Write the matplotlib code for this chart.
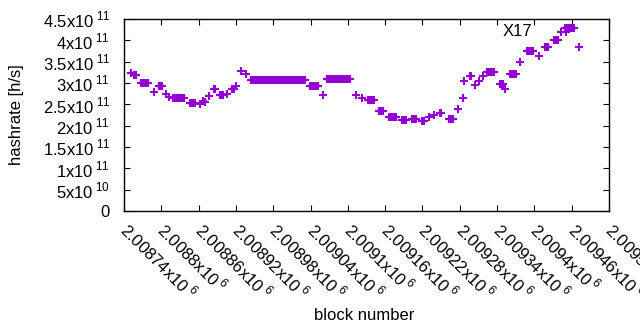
import numpy as np
import matplotlib
matplotlib.use("Agg")
import matplotlib.pyplot as plt
from matplotlib.ticker import FixedLocator, FuncFormatter

plt.rcParams['font.family'] = ['Liberation Sans', 'DejaVu Sans']
plt.rcParams['mathtext.fontset'] = 'custom'
plt.rcParams['mathtext.rm'] = 'Liberation Sans'

# runs of equal hashrate: first block, last block, value (x1e11 h/s)
seg_start = [2008751, 2008756, 2008767, 2008788, 2008796, 2008808, 2008812, 2008819,
             2008846, 2008862, 2008867, 2008870, 2008877, 2008885, 2008894, 2008906,
             2008914, 2008920, 2008928, 2008936, 2008944, 2009039, 2009060, 2009066,
             2009113, 2009123, 2009132, 2009150, 2009166, 2009187, 2009203, 2009219,
             2009230, 2009238, 2009248, 2009263, 2009277, 2009285, 2009287, 2009296,
             2009304, 2009311, 2009317, 2009324, 2009345, 2009353, 2009361, 2009377,
             2009388, 2009407, 2009417, 2009431, 2009443, 2009449, 2009451, 2009472]
seg_end = [2008751, 2008759, 2008779, 2008788, 2008801, 2008808, 2008812, 2008836,
           2008854, 2008862, 2008867, 2008870, 2008877, 2008886, 2008899, 2008906,
           2008917, 2008920, 2008928, 2008936, 2009031, 2009052, 2009060, 2009103,
           2009113, 2009123, 2009142, 2009156, 2009177, 2009193, 2009210, 2009222,
           2009230, 2009238, 2009250, 2009269, 2009277, 2009285, 2009287, 2009298,
           2009304, 2009311, 2009317, 2009335, 2009349, 2009353, 2009370, 2009377,
           2009398, 2009407, 2009422, 2009438, 2009443, 2009464, 2009451, 2009472]
seg_val = [3.23, 3.18, 3.00, 2.78, 2.94, 2.75, 2.68, 2.64,
           2.54, 2.50, 2.58, 2.55, 2.70, 2.85, 2.72, 2.75,
           2.86, 2.93, 3.27, 3.20, 3.08, 2.92, 2.73, 3.10,
           2.73, 2.66, 2.60, 2.34, 2.20, 2.14, 2.16, 2.12,
           2.20, 2.26, 2.30, 2.16, 2.40, 2.66, 3.05, 3.16,
           2.95, 3.05, 3.17, 3.25, 2.97, 2.85, 3.20, 3.50,
           3.75, 3.63, 3.85, 4.00, 4.20, 4.30, 4.20, 3.84]

x_ticks = np.arange(2008740, 2009521, 60)
y_ticks = np.arange(0, 4.51e11, 0.5e11)

blocks = np.concatenate([np.arange(s, e + 1) for s, e in zip(seg_start, seg_end)])
hashrate = np.concatenate([np.full(e - s + 1, v) for s, e, v in zip(seg_start, seg_end, seg_val)]) * 1e11

fig = plt.figure(figsize=(6.4, 3.3), dpi=100)
ax = fig.add_axes([124 / 640, 1 - 211 / 330, 485 / 640, 192 / 330])

ax.plot(blocks, hashrate, linestyle='none', marker='+', markersize=5.5,
        markeredgewidth=1.5, color='#9400d3')

ax.set_xlim(2008740, 2009520)
ax.set_ylim(0, 4.5e11)


def fmt_y(v, pos):
    if v == 0:
        return '0'
    exp = int(np.floor(np.log10(v)))
    mant = v / 10 ** exp
    return f"{mant:g}x10$^{{\\;{exp}}}$"


def fmt_x(v, pos):
    return f"{v / 1e6:g}x10$^{{\\;6}}$"


ax.xaxis.set_major_locator(FixedLocator(x_ticks))
ax.yaxis.set_major_locator(FixedLocator(y_ticks))
ax.xaxis.set_major_formatter(FuncFormatter(fmt_x))
ax.yaxis.set_major_formatter(FuncFormatter(fmt_y))

ax.tick_params(direction='in', length=4, width=0.8, top=True, right=True,
               labelsize=12, colors='black')
ax.tick_params(axis='y', pad=10)
ax.tick_params(axis='x', pad=11)
for lab in ax.get_xticklabels():
    lab.set_rotation(-45)
    lab.set_ha('left')
    lab.set_va('center')
    lab.set_rotation_mode('anchor')

for sp in ax.spines.values():
    sp.set_linewidth(1.0)

ax.text(0.841, 0.9375, 'X17', transform=ax.transAxes, ha='right', va='center',
        fontsize=12)

fig.text(17 / 640, 1 - 115 / 330, 'hashrate [h/s]', rotation=90, ha='center',
         va='center', fontsize=12)
fig.text(364 / 640, 1 - 315 / 330, 'block number', ha='center', va='center',
         fontsize=12)

fig.savefig('out.png', dpi=100)
